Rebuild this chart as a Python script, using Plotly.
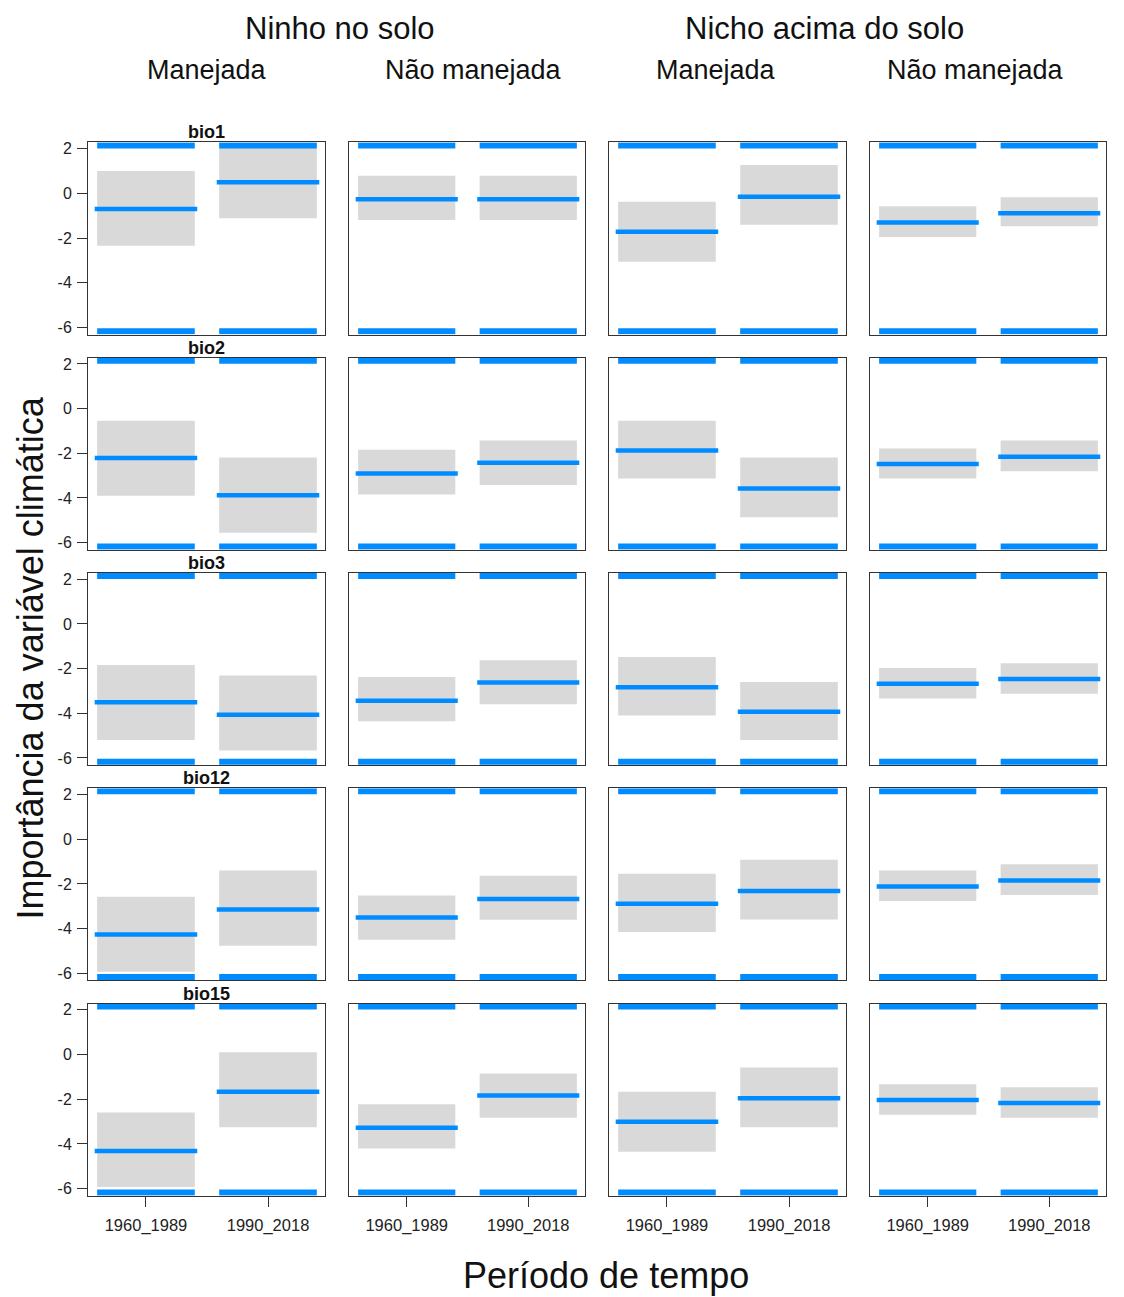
import plotly.graph_objects as go

# ---------------- data ----------------
variables = ["bio1", "bio2", "bio3", "bio12", "bio15"]
nest_groups = ["Ninho no solo", "Nicho acima do solo"]
management = ["Manejada", "Não manejada", "Manejada", "Não manejada"]
periods = ["1960_1989", "1990_2018"]
y_ticks = [-6, -4, -2, 0, 2]
y_tick_labels = ["-6", "-4", "-2", "0", "2"]

# rows: bio variables; columns: Ninho/Manejada, Ninho/Não manejada, Nicho/Manejada, Nicho/Não manejada
mean_1960 = [
    [-0.70, -0.27, -1.72, -1.31],
    [-2.21, -2.90, -1.87, -2.48],
    [-3.50, -3.44, -2.83, -2.68],
    [-4.26, -3.50, -2.89, -2.12],
    [-4.32, -3.28, -3.01, -2.04],
]
lower_1960 = [
    [-2.35, -1.19, -3.06, -1.96],
    [-3.90, -3.84, -3.13, -3.13],
    [-5.20, -4.36, -4.10, -3.34],
    [-5.93, -4.50, -4.15, -2.77],
    [-5.93, -4.21, -4.35, -2.70],
]
upper_1960 = [
    [1.00, 0.79, -0.38, -0.58],
    [-0.54, -1.84, -0.54, -1.78],
    [-1.84, -2.37, -1.48, -1.97],
    [-2.58, -2.52, -1.54, -1.40],
    [-2.60, -2.22, -1.67, -1.33],
]
mean_1990 = [
    [0.49, -0.27, -0.15, -0.89],
    [-3.88, -2.42, -3.58, -2.15],
    [-4.07, -2.62, -3.93, -2.47],
    [-3.14, -2.67, -2.32, -1.85],
    [-1.67, -1.83, -1.96, -2.17],
]
lower_1990 = [
    [-1.12, -1.19, -1.41, -1.47],
    [-5.55, -3.42, -4.86, -2.80],
    [-5.66, -3.60, -5.20, -3.13],
    [-4.77, -3.60, -3.59, -2.50],
    [-3.26, -2.83, -3.25, -2.83],
]
upper_1990 = [
    [2.12, 0.79, 1.27, -0.18],
    [-2.19, -1.43, -2.19, -1.43],
    [-2.31, -1.63, -2.60, -1.76],
    [-1.40, -1.63, -0.92, -1.12],
    [0.10, -0.85, -0.58, -1.46],
]
rug_top = 2.145      # limit markers drawn at the panel edges
rug_bottom = -6.17

# ---------------- style / layout ----------------
W, H = 1124, 1297
BLUE = "#008CFF"
GREY = "#D9D9D9"
FRAME = "#333333"
FONT = "Liberation Sans, Arial, sans-serif"

col_px = [(88, 325), (349, 585), (609, 846), (870, 1106)]
row_top_px = [140.7, 356.5, 572.3, 788.1, 1003.9]
row_h_px = 192.6
x_range = [0.525, 2.467]
y_range = [-6.32, 2.28]
half_w = 0.4
mean_half_w = 0.42

fig = go.Figure()
layout = dict(
    width=W, height=H, autosize=False,
    margin=dict(l=0, r=0, t=0, b=0),
    paper_bgcolor="white", plot_bgcolor="white",
    showlegend=False, barmode="overlay",
    font=dict(family=FONT, color="#222222"),
)

xs = [1, 2]
for r in range(len(variables)):
    for c in range(4):
        i = r * 4 + c + 1
        xa = "x" if i == 1 else f"x{i}"
        ya = "y" if i == 1 else f"y{i}"
        lows = [lower_1960[r][c], lower_1990[r][c]]
        ups = [upper_1960[r][c], upper_1990[r][c]]
        means = [mean_1960[r][c], mean_1990[r][c]]

        fig.add_trace(go.Bar(
            x=xs, y=[u - l for u, l in zip(ups, lows)], base=lows,
            width=2 * half_w, marker=dict(color=GREY, line=dict(width=0)),
            xaxis=xa, yaxis=ya, hoverinfo="skip",
        ))
        # limit markers (top and bottom)
        for yv in (rug_top, rug_bottom):
            lx, ly = [], []
            for xv in xs:
                lx += [xv - half_w, xv + half_w, None]
                ly += [yv, yv, None]
            fig.add_trace(go.Scatter(
                x=lx, y=ly, mode="lines", line=dict(color=BLUE, width=6),
                xaxis=xa, yaxis=ya, hoverinfo="skip",
            ))
        # mean lines
        mx, my = [], []
        for xv, m in zip(xs, means):
            mx += [xv - mean_half_w, xv + mean_half_w, None]
            my += [m, m, None]
        fig.add_trace(go.Scatter(
            x=mx, y=my, mode="lines", line=dict(color=BLUE, width=4.5),
            xaxis=xa, yaxis=ya, hoverinfo="skip",
        ))

        x0, x1 = col_px[c]
        top = row_top_px[r]
        bot = top + row_h_px
        bottom_row = r == len(variables) - 1
        left_col = c == 0
        layout["xaxis" if i == 1 else f"xaxis{i}"] = dict(
            domain=[x0 / W, x1 / W], range=x_range, anchor=ya,
            showgrid=False, zeroline=False,
            showline=True, mirror=True, linecolor=FRAME, linewidth=1,
            tickmode="array", tickvals=xs, ticktext=periods,
            showticklabels=bottom_row, ticks="outside" if bottom_row else "",
            ticklen=10, tickcolor=FRAME, tickwidth=1, ticklabelstandoff=4,
            tickfont=dict(size=16.5, color="#222222", family=FONT),
            fixedrange=True,
        )
        layout["yaxis" if i == 1 else f"yaxis{i}"] = dict(
            domain=[1 - bot / H, 1 - top / H], range=y_range, anchor=xa,
            showgrid=False, zeroline=False,
            showline=True, mirror=True, linecolor=FRAME, linewidth=1,
            tickmode="array", tickvals=y_ticks, ticktext=y_tick_labels,
            showticklabels=left_col, ticks="outside" if left_col else "",
            ticklen=10, tickcolor=FRAME, tickwidth=1, ticklabelstandoff=2,
            tickfont=dict(size=16, color="#222222", family=FONT),
            fixedrange=True,
        )

annotations = []
# bio labels
for r, name in enumerate(variables):
    annotations.append(dict(
        text=f"<b>{name}</b>", x=206.5 / W, y=1 - (row_top_px[r] - 10) / H,
        xref="paper", yref="paper", showarrow=False,
        xanchor="center", yanchor="middle",
        font=dict(size=18, color="#111111", family=FONT),
    ))
# column group headers
for name, xc in zip(nest_groups, [340, 824]):
    annotations.append(dict(
        text=name, x=xc / W, y=1 - 27 / H, xref="paper", yref="paper",
        showarrow=False, xanchor="center", yanchor="middle",
        font=dict(size=31, color="#111111", family=FONT),
    ))
for name, xc in zip(management, [207, 474, 716, 975]):
    annotations.append(dict(
        text=name, x=xc / W, y=1 - 68 / H, xref="paper", yref="paper",
        showarrow=False, xanchor="center", yanchor="middle",
        font=dict(size=27, color="#111111", family=FONT),
    ))
# axis titles
annotations.append(dict(
    text="Período de tempo", x=606 / W, y=1 - 1276 / H, xref="paper", yref="paper",
    showarrow=False, xanchor="center", yanchor="middle",
    font=dict(size=36, color="#111111", family=FONT),
))
annotations.append(dict(
    text="Importância da variável climática", x=30 / W, y=1 - 658 / H,
    xref="paper", yref="paper", showarrow=False, textangle=-90,
    xanchor="center", yanchor="middle",
    font=dict(size=36, color="#111111", family=FONT),
))
layout["annotations"] = annotations

fig.update_layout(**layout)
fig.write_html(
    "out.html",
    config={"displayModeBar": False, "staticPlot": True},
    post_script="document.body.style.margin='0px';document.body.style.overflow='hidden';",
)
